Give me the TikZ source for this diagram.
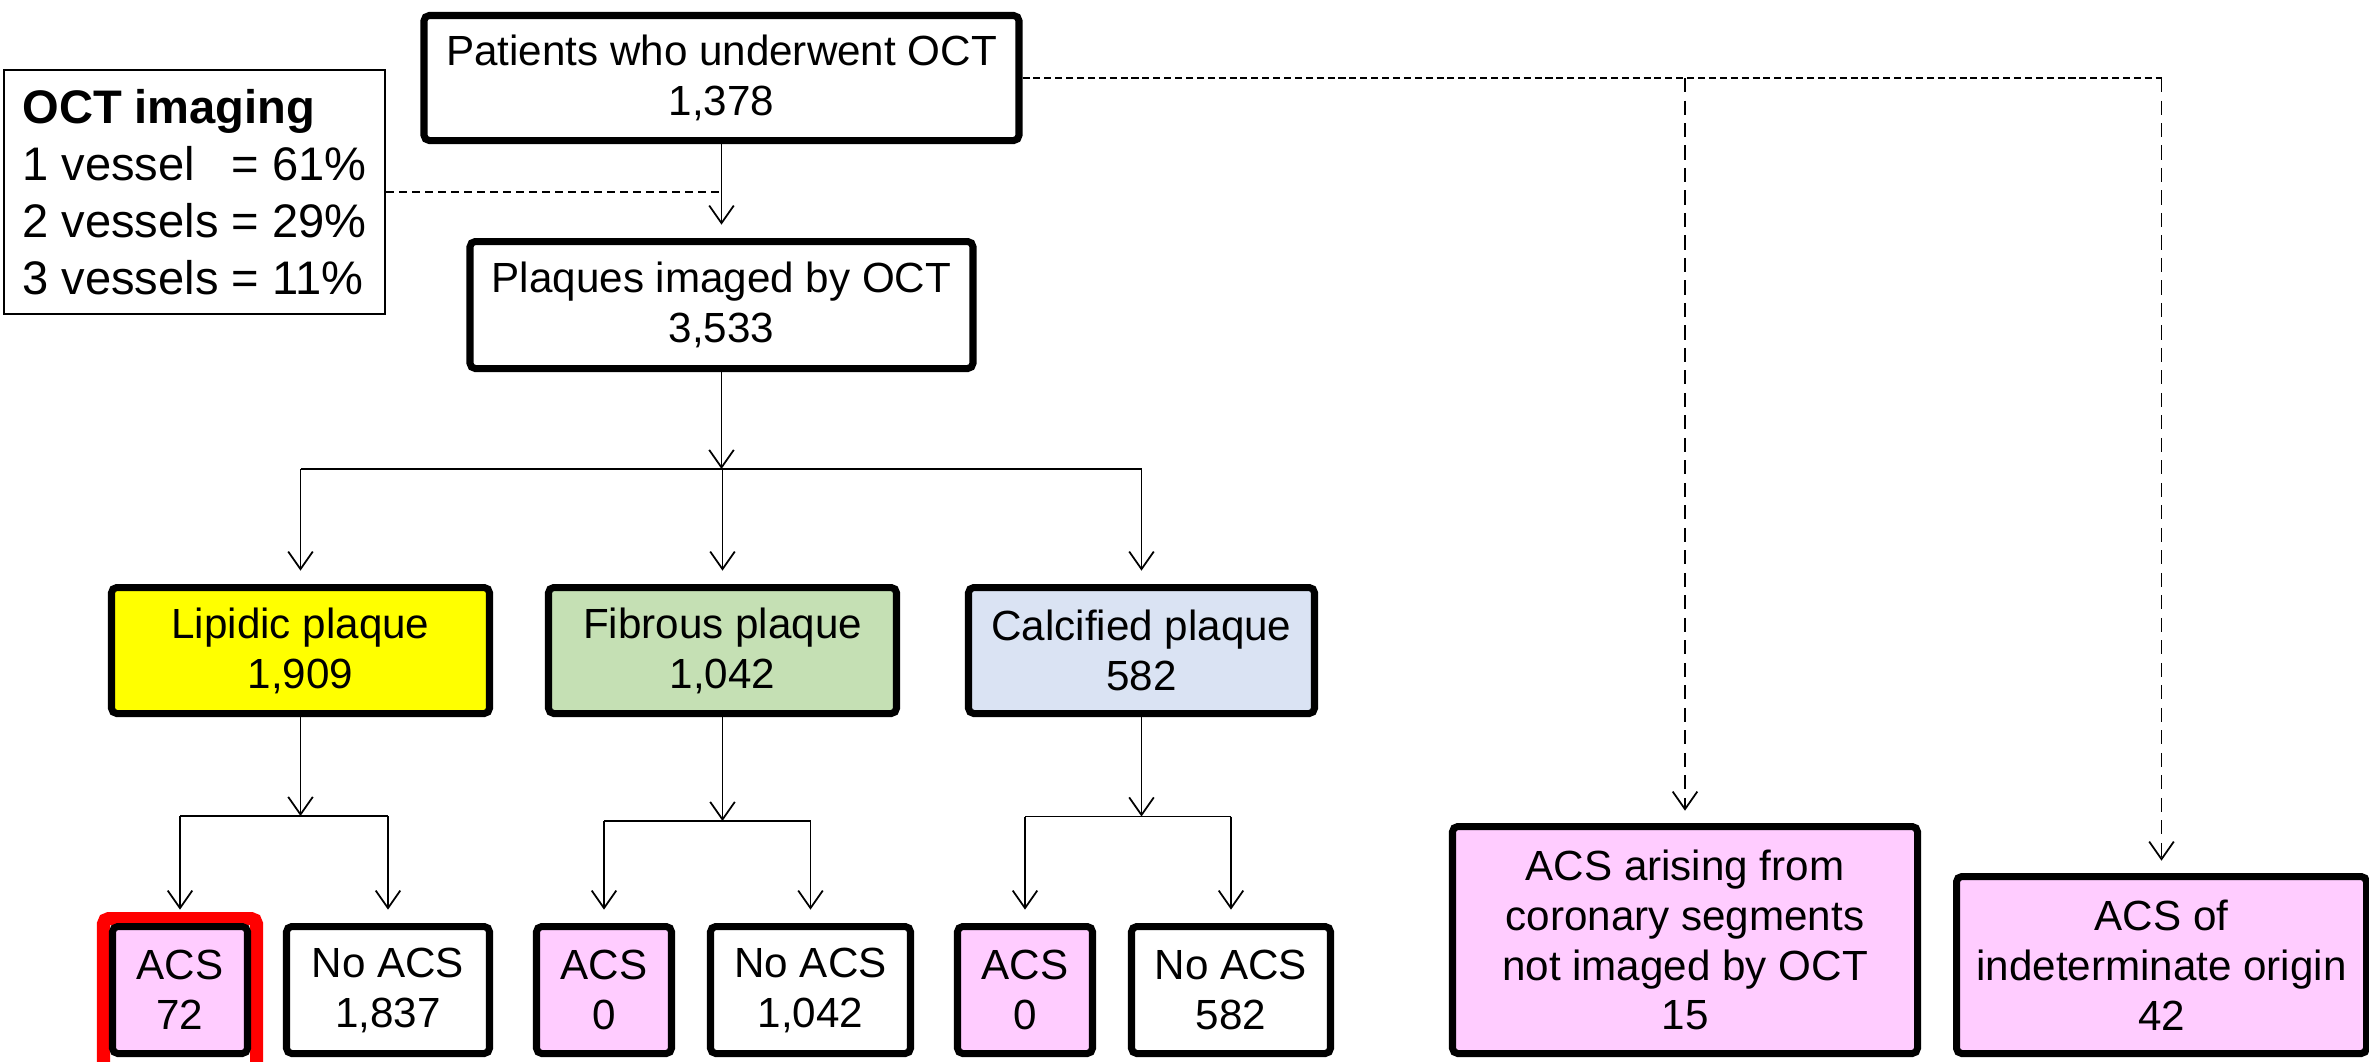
\documentclass[tikz,border=0pt]{standalone}
\usepackage{fontspec}
\setmainfont{Liberation Sans}
\usetikzlibrary{arrows.meta}
\definecolor{ink}{HTML}{000000}
\definecolor{lipid}{HTML}{FFFF00}
\definecolor{fibro}{HTML}{C5E0B4}
\definecolor{calci}{HTML}{DAE3F3}
\definecolor{event}{HTML}{FFCCFF}
\definecolor{alert}{HTML}{FF0000}

\begin{document}
\begin{tikzpicture}[>={Straight Barb[length=5pt,width=7pt]}, line width=0.5pt, draw=ink,
  box/.style={draw=ink, line width=2pt, rounded corners=1.5pt, fill=white, align=center, inner sep=0pt, font=\fontsize{12}{14.2}\selectfont},
  row/.style={box, minimum height=1.27cm},
  link/.style={->, shorten >=3.8pt},
  dotline/.style={dash pattern=on 2pt off 1.1pt},
  dashline/.style={->, shorten >=3.5pt, dash pattern=on 4pt off 2.4pt}]
  \useasboundingbox (0,0) rectangle (23.69,-10.61);

  \node[box, minimum width=5.95cm, minimum height=1.25cm] (pat) at (7.215,-0.78) {Patients who underwent OCT\\1,378};
  \node[box, minimum width=5.03cm, minimum height=1.27cm] (plq) at (7.215,-3.05) {Plaques imaged by OCT\\3,533};
  \node[draw=ink, line width=0.6pt, fill=white, align=left, inner sep=0pt, minimum width=3.81cm, minimum height=2.44cm, font=\fontsize{13.4}{16.2}\selectfont] (oct) at (1.945,-1.92) {\textbf{OCT imaging}\\1 vessel\phantom{s} = 61\%\\2 vessels = 29\%\\3 vessels = 11\%};

  \node[box, fill=lipid, minimum width=3.78cm, minimum height=1.26cm] (lip) at (3.005,-6.505) {Lipidic plaque\\1,909};
  \node[box, fill=fibro, minimum width=3.48cm, minimum height=1.26cm] (fib) at (7.225,-6.505) {Fibrous plaque\\1,042};
  \node[box, fill=calci, minimum width=3.46cm, minimum height=1.26cm] (cal) at (11.415,-6.505) {Calcified plaque\\582};

  \draw[alert, line width=3.7pt, rounded corners=1.5pt] (1.035,-10.9) -- (1.035,-9.185) -- (2.565,-9.185) -- (2.565,-10.9);
  \node[row, fill=event, minimum width=1.35cm] (lacs) at (1.80,-9.90) {ACS\\72};
  \node[row, minimum width=2.03cm] (lno) at (3.88,-9.90) {No ACS\\1,837};
  \node[row, fill=event, minimum width=1.35cm] (facs) at (6.04,-9.90) {ACS\\0};
  \node[row, minimum width=2.00cm] (fno) at (8.105,-9.90) {No ACS\\1,042};
  \node[row, fill=event, minimum width=1.35cm] (cacs) at (10.25,-9.90) {ACS\\0};
  \node[row, minimum width=1.99cm] (cno) at (12.31,-9.90) {No ACS\\582};

  \node[box, fill=event, minimum width=4.65cm, minimum height=2.27cm] (seg) at (16.85,-9.40) {ACS arising from\\coronary segments\\not imaged by OCT\\15};
  \node[box, fill=event, minimum width=4.10cm, minimum height=1.77cm] (ind) at (21.615,-9.65) {ACS of\\indeterminate origin\\42};

  \coordinate (tsplit) at (7.215,-4.69);
  \coordinate (lsplit) at (3.005,-8.16);
  \coordinate (fsplit) at (7.225,-8.21);
  \coordinate (csplit) at (11.415,-8.165);

  \draw[link] (pat.south) -- (plq.north);
  \draw[dash pattern=on 2.3pt off 1.4pt] (oct.east) -- (oct.east -| plq.north);
  \draw[->] (plq.south) -- (tsplit);
  \draw (tsplit -| lip) -- (tsplit -| cal);
  \foreach \n in {lip,fib,cal}
    \draw[link] (tsplit -| \n) -- (\n.north);

  \foreach \p/\s/\a/\b in {lip/lsplit/lacs/lno, fib/fsplit/facs/fno, cal/csplit/cacs/cno}{
    \draw[->] (\p.south) -- (\s);
    \draw (\s -| \a) -- (\s -| \b);
    \draw[link] (\s -| \a) -- (\a.north);
    \draw[link] (\s -| \b) -- (\b.north);
  }

  \draw[dotline] (pat.east) -- (pat.east -| ind.north);
  \draw[dashline] (pat.east -| seg.north) -- (seg.north);
  \draw[dashline] (pat.east -| ind.north) -- (ind.north);
\end{tikzpicture}
\end{document}
